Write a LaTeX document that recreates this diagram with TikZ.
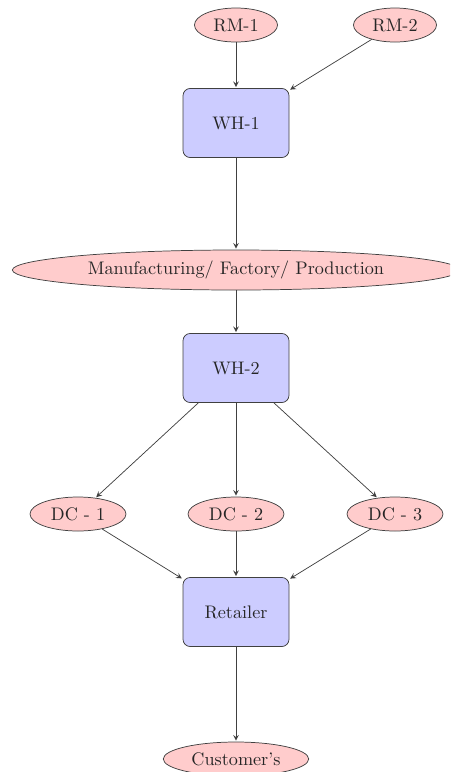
\documentclass[tikz,border=0pt]{standalone}
\usetikzlibrary{shapes.geometric}
\begin{document}
\begin{tikzpicture}[x=0.55pt,y=-0.55pt,
  oval/.style={ellipse, draw=black!75, fill=red!20, text=black!85, inner sep=1pt, minimum width=45.7pt, minimum height=18.7pt},
  boxnode/.style={rectangle, rounded corners=4pt, draw=black!75, fill=blue!20, text=black!85, minimum width=58.3pt, minimum height=38pt},
  link/.style={->, draw=black!75, >=stealth, shorten >=0.5pt}]
\useasboundingbox (0,0) rectangle (450,772);
\clip (0,0) rectangle (450,772);
\node[oval] (rm1) at (236,25) {RM-1};
\node[oval] (rm2) at (395,25) {RM-2};
\node[boxnode] (wh1) at (236,123) {WH-1};
\node[oval, minimum width=246pt, minimum height=22pt] (mfg) at (236,270) {Manufacturing/ Factory/ Production};
\node[boxnode] (wh2) at (236,368) {WH-2};
\node[oval, minimum width=52.8pt] (dc1) at (78,514) {DC - 1};
\node[oval, minimum width=52.8pt] (dc2) at (236,514) {DC - 2};
\node[oval, minimum width=52.8pt] (dc3) at (395,514) {DC - 3};
\node[boxnode] (ret) at (236,612) {Retailer};
\node[oval, minimum width=80pt] (cust) at (236,759) {Customer's};
\draw[link] (rm1) -- (wh1);
\draw[link] (rm2) -- (wh1);
\draw[link] (wh1) -- (mfg);
\draw[link] (mfg) -- (wh2);
\draw[link] (wh2) -- (dc1);
\draw[link] (wh2) -- (dc2);
\draw[link] (wh2) -- (dc3);
\draw[link] (dc1) -- (ret);
\draw[link] (dc2) -- (ret);
\draw[link] (dc3) -- (ret);
\draw[link] (ret) -- (cust);
\end{tikzpicture}
\end{document}
